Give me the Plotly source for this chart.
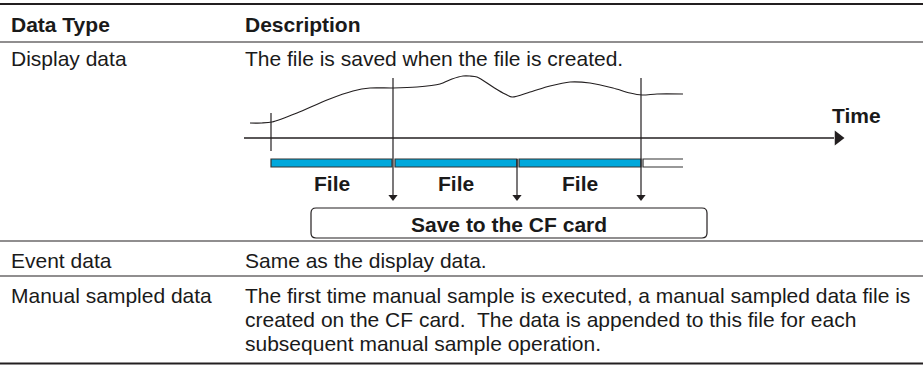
import plotly.graph_objects as go

# ---------------- data ----------------
header_labels = ["Data Type", "Description"]
row_types = ["Display data", "Event data", "Manual sampled data"]
row_desc_display = ["The file is saved when the file is created."]
row_desc_event = ["Same as the display data."]
row_desc_manual = [
    "The first time manual sample is executed, a manual sampled data file is",
    "created on the CF card.  The data is appended to this file for each",
    "subsequent manual sample operation.",
]

# measured-signal curve in the diagram (time, level)
curve_x = [250, 262, 272, 297, 327, 353, 370, 393, 417, 440, 452, 463, 470, 477,
           493, 505, 512, 530, 550, 570, 590, 613, 630, 642, 657, 683]
curve_y = [123, 123, 122, 113, 100, 91, 88, 88, 87, 84, 79, 76, 76, 77,
           87, 94, 97, 92, 86, 82, 83, 88, 93, 95, 94, 94]

# file segments along time axis
file_start = [271, 395, 519]
file_end = [392, 517, 641]
file_labels = ["File", "File", "File"]
open_start = 643
open_end = 683

# file-division markers (x, top)
marker_x = [271, 393, 641]
marker_top = [113, 78, 78]
# save arrows
save_x = [393, 517, 641]

axis_label = "Time"
box_label = "Save to the CF card"

# ---------------- layout constants ----------------
W, H = 923, 365
TXT = "#1a1a1a"
RULE = "#231f20"
BLUE = "#00a8dc"
FONT = "Liberation Sans, Arial, Helvetica, sans-serif"
FS = 21

col1_x = 9
col2_x = 243

fig = go.Figure()

# curve
fig.add_trace(go.Scatter(x=curve_x, y=curve_y, mode="lines",
                         line=dict(color=RULE, width=1.2, shape="spline", smoothing=0.8),
                         hoverinfo="skip", showlegend=False))

shapes = []

def hline(y, x0, x1, w):
    shapes.append(dict(type="line", xref="x", yref="y", x0=x0, x1=x1, y0=y, y1=y,
                       line=dict(color=RULE, width=w)))

def vline(x, y0, y1, w=1.2):
    shapes.append(dict(type="line", xref="x", yref="y", x0=x, x1=x, y0=y0, y1=y1,
                       line=dict(color=RULE, width=w)))

# table rules
hline(4, 0, W, 2)
hline(42, 0, W, 1.2)
hline(241, 0, W, 1.2)
hline(276, 0, W, 1.2)
hline(363.5, 0, W, 2)

# time axis
axis_y = 138
hline(axis_y, 244, 834, 1.3)

# markers
bar_top, bar_bot = 159, 167
for x, t in zip(marker_x, marker_top):
    vline(x, t, 151)

# file bars
for s, e in zip(file_start, file_end):
    shapes.append(dict(type="rect", xref="x", yref="y", x0=s, x1=e, y0=bar_top, y1=bar_bot,
                       fillcolor=BLUE, line=dict(color="#333333", width=1.2)))
# open (current) file segment
shapes.append(dict(type="path", xref="x", yref="y",
                   path=f"M {open_end},{bar_top} L {open_start},{bar_top} L {open_start},{bar_bot} L {open_end},{bar_bot}",
                   line=dict(color="#333333", width=1.2)))

# save arrows (lines)
arrow_tip = 201
for x in save_x:
    vline(x, 151 if x in marker_x else bar_top, arrow_tip - 6)

# rounded box
bx0, bx1, by0, by1, r = 311, 707, 208, 238, 5
path = (f"M {bx0+r},{by0} L {bx1-r},{by0} Q {bx1},{by0} {bx1},{by0+r} "
        f"L {bx1},{by1-r} Q {bx1},{by1} {bx1-r},{by1} L {bx0+r},{by1} "
        f"Q {bx0},{by1} {bx0},{by1-r} L {bx0},{by0+r} Q {bx0},{by0} {bx0+r},{by0} Z")
shapes.append(dict(type="path", xref="x", yref="y", path=path,
                   line=dict(color=RULE, width=1.2), fillcolor="white"))

# arrowheads
fig.add_trace(go.Scatter(x=save_x, y=[arrow_tip - 4] * len(save_x), mode="markers",
                         marker=dict(symbol="triangle-down-tall" if False else "triangle-down",
                                     size=8, color=RULE, line=dict(width=0)),
                         hoverinfo="skip", showlegend=False))
fig.add_trace(go.Scatter(x=[838], y=[axis_y], mode="markers",
                         marker=dict(symbol="triangle-right", size=13, color=RULE, line=dict(width=0)),
                         hoverinfo="skip", showlegend=False))

ann = []

def text(x, y, s, bold=False, anchor="left", size=FS):
    ann.append(dict(x=x, y=y, xref="x", yref="y", text=(f"<b>{s}</b>" if bold else s),
                    showarrow=False, xanchor=anchor, yanchor="middle",
                    font=dict(family=FONT, size=size, color=TXT)))

text(col1_x, 24, header_labels[0], bold=True)
text(col2_x, 24, header_labels[1], bold=True)
text(col1_x, 58, row_types[0])
text(col2_x, 58, row_desc_display[0])
text(col1_x, 260, row_types[1])
text(col2_x, 260, row_desc_event[0])
text(col1_x, 295, row_types[2])
for i, line in enumerate(row_desc_manual):
    text(col2_x, 295 + 24 * i, line)

# diagram labels
for s, e, lab in zip(file_start, file_end, file_labels):
    text((s + e) / 2, 183, lab, bold=True, anchor="center")
text(830, 115, axis_label, bold=True)
text((bx0 + bx1) / 2, 224, box_label, bold=True, anchor="center")

fig.update_layout(
    width=W, height=H, margin=dict(l=0, r=0, t=0, b=0),
    paper_bgcolor="white", plot_bgcolor="white",
    xaxis=dict(range=[0, W], visible=False, fixedrange=True),
    yaxis=dict(range=[H, 0], visible=False, fixedrange=True),
    shapes=shapes, annotations=ann, showlegend=False, hovermode=False,
)

fig.write_html("out.html", config={"displayModeBar": False},
               post_script="document.body.style.margin='0';document.body.style.overflow='hidden';")
